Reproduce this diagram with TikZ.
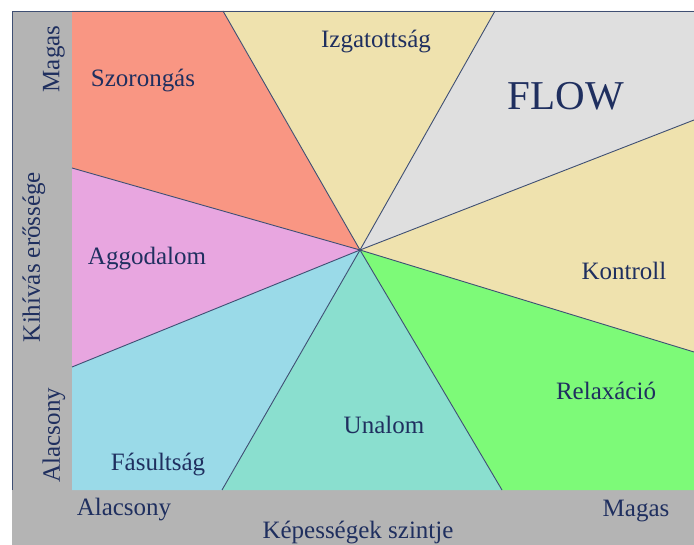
\documentclass[tikz,border=0pt]{standalone}
\usepackage{fontspec}
\setmainfont{Liberation Serif}
\begin{document}
\begin{tikzpicture}[x=1pt,y=-1pt,
  lbl/.style={text=labelblue,font=\fontsize{25}{29}\selectfont,inner sep=0pt},
  divider/.style={draw=edgeblue,line width=0.9pt}]
\definecolor{labelblue}{RGB}{31,47,95}
\definecolor{edgeblue}{RGB}{63,79,115}
\definecolor{axisgray}{RGB}{180,180,180}
\definecolor{anxietyred}{RGB}{249,150,131}
\definecolor{palesand}{RGB}{239,226,174}
\definecolor{flowgray}{RGB}{223,223,223}
\definecolor{relaxgreen}{RGB}{125,250,120}
\definecolor{boredteal}{RGB}{138,223,207}
\definecolor{apathyblue}{RGB}{154,218,232}
\definecolor{worrypink}{RGB}{232,166,224}
\useasboundingbox (0,0) rectangle (694,545);

% key points of the chart
\coordinate (C)  at (360,250);
\coordinate (TL) at (72,11);
\coordinate (TR) at (694,11);
\coordinate (BR) at (694,490);
\coordinate (BL) at (72,490);
\coordinate (L1) at (72,168);
\coordinate (L2) at (72,367);
\coordinate (T1) at (223,11);
\coordinate (T2) at (495,11);
\coordinate (R1) at (694,120);
\coordinate (R2) at (694,352);
\coordinate (B1) at (222,490);
\coordinate (B2) at (502,490);

% axis bars
\fill[axisgray] (12,11) rectangle (72,490);
\fill[axisgray] (12,490) rectangle (694,545);
\draw[edgeblue,line width=0.9pt] (12,490) -- (12,11) -- (694,11);

% sectors
\fill[anxietyred] (C) -- (L1) -- (TL) -- (T1) -- cycle;
\fill[palesand]   (C) -- (T1) -- (T2) -- cycle;
\fill[flowgray]   (C) -- (T2) -- (TR) -- (R1) -- cycle;
\fill[palesand]   (C) -- (R1) -- (R2) -- cycle;
\fill[relaxgreen] (C) -- (R2) -- (BR) -- (B2) -- cycle;
\fill[boredteal]  (C) -- (B2) -- (B1) -- cycle;
\fill[apathyblue] (C) -- (B1) -- (BL) -- (L2) -- cycle;
\fill[worrypink]  (C) -- (L2) -- (L1) -- cycle;
\draw[edgeblue,line width=0.9pt] (TL) -- (TR);

% dividing rays
\foreach \p in {L1,L2,T1,T2,R1,R2,B1,B2}
  \draw[divider] (C) -- (\p);

% sector labels
\node[lbl] (szor) at (143,81)  {Szorongás};
\node[lbl] (izga) at (376,42)  {Izgatottság};
\node[lbl,font=\fontsize{41}{45}\selectfont] (flow) at (566,96) {FLOW};
\node[lbl] (aggo) at (147,259) {Aggodalom};
\node[lbl] (kont) at (624,271) {Kontroll};
\node[lbl] (rela) at (606,391) {Relaxáció};
\node[lbl] (unal) at (384,425) {Unalom};
\node[lbl] (fasu) at (158,465) {Fásultság};

% axis labels
\node[lbl,rotate=90] (ymax) at (54,59)  {Magas};
\node[lbl,rotate=90] (ytit) at (34,257) {Kihívás erőssége};
\node[lbl,rotate=90] (ymin) at (54,435) {Alacsony};
\node[lbl] (xmin) at (124,510) {Alacsony};
\node[lbl] (xmax) at (636,511) {Magas};
\node[lbl] (xtit) at (358,533) {Képességek szintje};
\end{tikzpicture}
\end{document}
